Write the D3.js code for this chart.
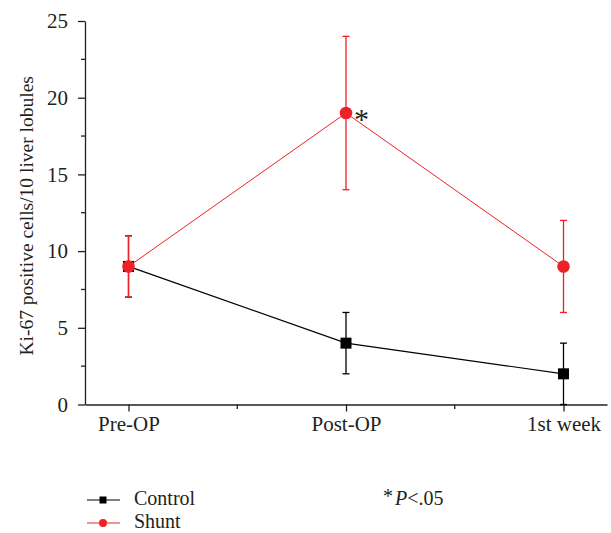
<!DOCTYPE html>
<html>
<head>
<meta charset="utf-8">
<script src="https://cdn.jsdelivr.net/npm/d3@7"></script>
<style>
  body { margin: 0; background: #fff; }
  text { font-family: "Liberation Serif", "Times New Roman", serif; fill: #231f20; }
</style>
</head>
<body>
<div id="chart"></div>
<script>
var categories = ["Pre-OP", "Post-OP", "1st week"];
var controlMean = [9, 4, 2];
var controlErr = [2, 2, 2];
var shuntMean = [9, 19, 9];
var shuntErr = [2, 5, 3];
var yTicks = [0, 5, 10, 15, 20, 25];
var yMinorTicks = [2.5, 7.5, 12.5, 17.5, 22.5];
var xMinorTicks = [1.5, 2.5];

var red = "#ed2227",
    black = "#000";

var svg = d3.select("#chart")
  .append("svg")
  .attr("width", 611)
  .attr("height", 533);

var x = d3.scaleLinear().domain([0.8, 3.2]).range([85, 607]);
var y = d3.scaleLinear().domain([0, 25]).range([404.5, 21]);

// y axis
var yAxis = svg.append("g")
  .attr("transform", "translate(85,0)")
  .call(d3.axisLeft(y).tickValues(yTicks).tickSize(7).tickPadding(10).tickSizeOuter(0));
yAxis.select(".domain").attr("stroke", "#231f20").attr("stroke-width", 1.3);
yAxis.selectAll(".tick line").attr("stroke", "#231f20").attr("stroke-width", 1.3);
yAxis.selectAll(".tick text").style("font-size", "21px").attr("font-family", null);

svg.append("g").selectAll("line")
  .data(yMinorTicks)
  .join("line")
  .attr("x1", 81).attr("x2", 85)
  .attr("y1", function (d) { return y(d); })
  .attr("y2", function (d) { return y(d); })
  .attr("stroke", "#231f20").attr("stroke-width", 1.3);

// x axis
var xAxis = svg.append("g")
  .attr("transform", "translate(0,404.5)")
  .call(d3.axisBottom(x).tickValues([1, 2, 3])
    .tickFormat(function (d) { return categories[d - 1]; })
    .tickSize(7).tickPadding(5).tickSizeOuter(0));
xAxis.select(".domain").attr("stroke", "#231f20").attr("stroke-width", 1.3);
xAxis.selectAll(".tick line").attr("stroke", "#231f20").attr("stroke-width", 1.3);
xAxis.selectAll(".tick text").style("font-size", "21px").attr("font-family", null);

svg.append("g").selectAll("line")
  .data(xMinorTicks)
  .join("line")
  .attr("x1", function (d) { return x(d); })
  .attr("x2", function (d) { return x(d); })
  .attr("y1", 404.5).attr("y2", 409)
  .attr("stroke", "#231f20").attr("stroke-width", 1.3);

// y label
svg.append("text")
  .attr("transform", "translate(33," + y(12.3) + ") rotate(-90)")
  .attr("text-anchor", "middle")
  .style("font-size", "19.5px")
  .text("Ki-67 positive cells/10 liver lobules");

function drawSeries(mean, err, color, width) {
  var g = svg.append("g");
  var idx = [1, 2, 3];
  var line = d3.line()
    .x(function (d) { return x(d); })
    .y(function (d) { return y(mean[d - 1]); });

  g.append("path")
    .datum(idx)
    .attr("d", line)
    .attr("fill", "none")
    .attr("stroke", color)
    .attr("stroke-width", width);

  var bars = g.selectAll(".err")
    .data(idx)
    .join("g")
    .attr("class", "err")
    .attr("stroke", color)
    .attr("stroke-width", 1.3);

  bars.append("line")
    .attr("x1", function (d) { return x(d); })
    .attr("x2", function (d) { return x(d); })
    .attr("y1", function (d) { return y(mean[d - 1] - err[d - 1]); })
    .attr("y2", function (d) { return y(mean[d - 1] + err[d - 1]); });

  [-1, 1].forEach(function (s) {
    bars.append("line")
      .attr("x1", function (d) { return x(d) - 3.5; })
      .attr("x2", function (d) { return x(d) + 3.5; })
      .attr("y1", function (d) { return y(mean[d - 1] + s * err[d - 1]); })
      .attr("y2", function (d) { return y(mean[d - 1] + s * err[d - 1]); });
  });
  return g;
}

var ctrl = drawSeries(controlMean, controlErr, black, 1.2);
ctrl.selectAll("rect")
  .data([1, 2, 3])
  .join("rect")
  .attr("x", function (d) { return x(d) - 5.5; })
  .attr("y", function (d) { return y(controlMean[d - 1]) - 5.5; })
  .attr("width", 11).attr("height", 11)
  .attr("fill", black);

var shunt = drawSeries(shuntMean, shuntErr, red, 1);
shunt.selectAll("circle")
  .data([1, 2, 3])
  .join("circle")
  .attr("cx", function (d) { return x(d); })
  .attr("cy", function (d) { return y(shuntMean[d - 1]); })
  .attr("r", 6.3)
  .attr("fill", red);

// significance mark
svg.append("text")
  .attr("x", x(2) + 8)
  .attr("y", y(shuntMean[1]) + 16)
  .style("font-size", "30px")
  .style("font-weight", "300")
  .text("*");

// legend
var legend = svg.append("g");
legend.append("line").attr("x1", 87).attr("x2", 120).attr("y1", 500).attr("y2", 500)
  .attr("stroke", black).attr("stroke-width", 1.2);
legend.append("rect").attr("x", 99.5).attr("y", 496.5).attr("width", 7).attr("height", 7).attr("fill", black);
legend.append("text").attr("x", 134).attr("y", 505).style("font-size", "20px").text("Control");

legend.append("line").attr("x1", 87).attr("x2", 120).attr("y1", 523).attr("y2", 523)
  .attr("stroke", red).attr("stroke-width", 1);
legend.append("circle").attr("cx", 103).attr("cy", 523).attr("r", 4).attr("fill", red);
legend.append("text").attr("x", 134).attr("y", 528).style("font-size", "20px").text("Shunt");

var pnote = svg.append("text").attr("x", 383).attr("y", 505).style("font-size", "20px");
pnote.append("tspan").attr("dy", -2).text("*");
pnote.append("tspan").attr("dy", 2).attr("dx", 2).attr("font-style", "italic").text("P");
pnote.append("tspan").text("<.05");
</script>
</body>
</html>
